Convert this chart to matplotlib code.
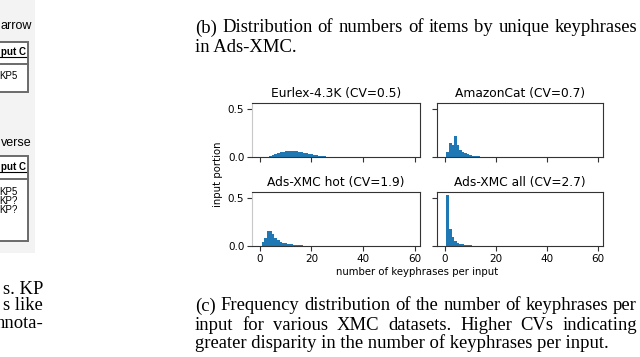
import numpy as np
import matplotlib
matplotlib.use("Agg")
import matplotlib.pyplot as plt
from matplotlib.patches import Rectangle

W, H = 640, 357  # px

# histogram data: portion of inputs per bin (bin width 1, first bin at 0.7)
eurlex = [0, 0, 0.003, 0.01, 0.02, 0.03, 0.04, 0.048, 0.054, 0.058, 0.062, 0.063,
          0.062, 0.06, 0.056, 0.052, 0.046, 0.04, 0.034, 0.028, 0.022, 0.017, 0.013,
          0.01, 0.007, 0.005, 0.004, 0.003, 0.002, 0.002, 0.001, 0.001, 0.001, 0.001,
          0.001, 0.001, 0.001]
amazoncat = [0.05, 0.15, 0.12, 0.22, 0.13, 0.07, 0.05, 0.04, 0.03, 0.02, 0.015,
             0.01, 0.008, 0.005, 0.004, 0.002, 0.001]
ads_hot = [0.04, 0.08, 0.155, 0.155, 0.12, 0.08, 0.06, 0.045, 0.035, 0.028, 0.022,
           0.017, 0.013, 0.01, 0.008, 0.006, 0.004, 0.003, 0.002, 0.002, 0.001,
           0.001, 0.001]
ads_all = [0.535, 0.18, 0.09, 0.05, 0.035, 0.025, 0.018, 0.012, 0.009, 0.006,
           0.004, 0.003, 0.002]

titles = ["Eurlex-4.3K (CV=0.5)", "AmazonCat (CV=0.7)",
          "Ads-XMC hot (CV=1.9)", "Ads-XMC all (CV=2.7)"]
series = [eurlex, amazoncat, ads_hot, ads_all]
xticks = [0, 20, 40, 60]
yticks = [0.0, 0.5]

cap_b = ["(b) Distribution of numbers of items by unique keyphrases",
         "in Ads-XMC."]
cap_c = ["(c) Frequency distribution of the number of keyphrases per",
         "input for various XMC datasets. Higher CVs indicating",
         "greater disparity in the number of keyphrases per input."]
left_txt = ["s. KP", "s like", "nnota-"]

fig = plt.figure(figsize=(W / 100, H / 100), dpi=100)


def rect(l, t, r, b):
    # pixel box -> figure fraction
    return [l / W, 1 - b / H, (r - l) / W, (b - t) / H]


def fx(x):
    return x / W


def fy(y):
    return 1 - y / H


# ---- left strip (cut-off part of neighbouring figure) ----
fig.patches.append(Rectangle((0, fy(253)), fx(35), 253 / H, transform=fig.transFigure,
                             facecolor="#f3f3f3", edgecolor="none", zorder=0))
for (t, b, sep) in [(42, 92, 64), (156, 241, 179)]:
    fig.patches.append(Rectangle((fx(-5), fy(b)), fx(33), (b - t) / H,
                                 transform=fig.transFigure, facecolor="white",
                                 edgecolor="#6a6a6a", lw=1.4, zorder=1))
    fig.lines.append(plt.Line2D([0, fx(28)], [fy(sep), fy(sep)], transform=fig.transFigure,
                                color="#6a6a6a", lw=1.4, zorder=2))
sans = "Liberation Sans"
fig.text(fx(32), fy(26), "arrow", ha="right", va="center", fontsize=9, family=sans)
fig.text(fx(32), fy(143), "verse", ha="right", va="center", fontsize=9, family=sans)
for y in [52, 167]:
    fig.text(fx(26), fy(y), "put C", ha="right", va="center", fontsize=7,
             weight="bold", family=sans)
    fig.lines.append(plt.Line2D([0, fx(26)], [fy(y + 5), fy(y + 5)],
                                transform=fig.transFigure, color="black", lw=0.8))
fig.text(fx(17), fy(76), "KP5", ha="right", va="center", fontsize=7, family=sans)
for y, s in zip([192, 201, 210], ["KP5", "KP?", "KP?"]):
    fig.text(fx(18), fy(y), s, ha="right", va="center", fontsize=7, family=sans)

serif = "Liberation Serif"
for y, s in zip([289, 306, 323], left_txt):
    fig.text(fx(43), fy(y), s, ha="right", va="center", fontsize=13.4, family=serif)


# ---- captions (justified lines) ----
def justified(words_line, x0, x1, y, size, justify=True):
    words = words_line.split(" ")
    if not justify:
        fig.text(fx(x0), fy(y), words_line, ha="left", va="center", fontsize=size,
                 family=serif)
        return
    r = fig.canvas.get_renderer()
    ts = [fig.text(0, fy(y), w, ha="left", va="center", fontsize=size, family=serif)
          for w in words]
    ws = [t.get_window_extent(r).width for t in ts]
    gap = (x1 - x0 - sum(ws)) / (len(words) - 1)
    x = x0
    for t, w in zip(ts, ws):
        t.set_x(fx(x))
        x += w + gap


justified(cap_b[0], 195, 637, 28, 13.4)
justified(cap_b[1], 195, 637, 47, 13.4, justify=False)
justified(cap_c[0], 195, 637, 306, 13.4)
justified(cap_c[1], 195, 637, 325, 13.4)
justified(cap_c[2], 195, 637, 343, 13.4, justify=False)

# ---- histograms ----
boxes = [rect(252, 103, 420, 157), rect(437, 103, 603, 157),
         rect(252, 192, 420, 246), rect(437, 192, 603, 246)]
axes = []
for i, (b, vals, title) in enumerate(zip(boxes, series, titles)):
    ax = fig.add_axes(b)
    edges = np.arange(len(vals) + 1) + 0.7
    ax.hist(edges[:-1], bins=edges, weights=vals, color="#1f77b4")
    ax.set_xlim(-3, 62)
    ax.set_ylim(0, 0.5625)
    ax.set_xticks(xticks)
    ax.set_yticks(yticks)
    ax.set_title(title, fontsize=8.8, pad=4)
    ax.tick_params(labelsize=7.5, length=3.5, width=0.8, pad=2, color="#333333")
    for sp in ax.spines.values():
        sp.set_color("#333333")
        sp.set_linewidth(0.8)
    if i % 2 == 0:
        ax.set_yticklabels(["0.0", "0.5"])
        ax.spines["left"].set_color("#c8c8c8")
    else:
        ax.set_yticklabels([])
    if i < 2:
        ax.set_xticklabels([])
    axes.append(ax)

fig.text(fx(417), fy(272), "number of keyphrases per input", ha="center", va="center",
         fontsize=7.3)
fig.text(fx(218), fy(174), "input portion", ha="center", va="center", rotation=90,
         fontsize=7.3)

fig.savefig("out.png", dpi=100)
